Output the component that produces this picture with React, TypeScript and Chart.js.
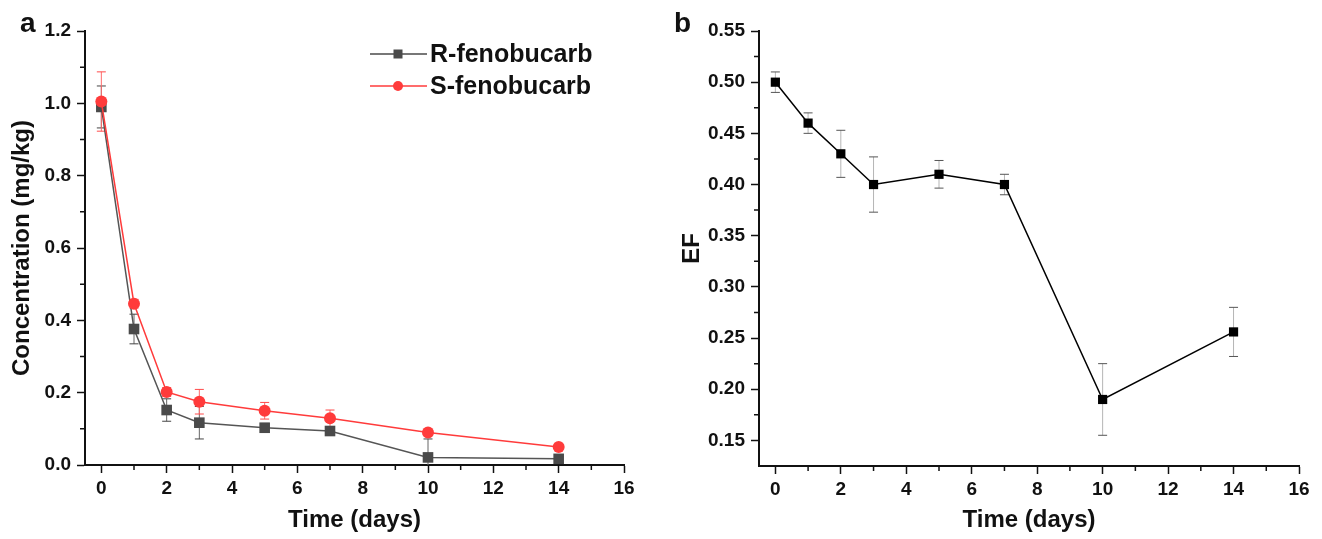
import React, { useEffect, useRef } from 'react';
import { Chart, registerables } from 'chart.js';
Chart.register(...registerables);

// ---------- data ----------
const days = [0, 1, 2, 3, 5, 7, 10, 14];
const rFenobucarb = [0.99, 0.376, 0.152, 0.117, 0.103, 0.094, 0.021, 0.017];
const rFenobucarbErr = [0.058, 0.041, 0.031, 0.045, 0.012, 0.01, 0.051, 0.006];
const sFenobucarb = [1.005, 0.446, 0.202, 0.175, 0.15, 0.129, 0.09, 0.05];
const sFenobucarbErr = [0.082, 0.012, 0.012, 0.034, 0.023, 0.023, 0.006, 0.006];
const efValues = [0.5, 0.46, 0.43, 0.4, 0.41, 0.4, 0.19, 0.256];
const efErr = [0.01, 0.01, 0.023, 0.027, 0.0135, 0.01, 0.035, 0.024];

const timeTicks = [0, 2, 4, 6, 8, 10, 12, 14, 16];
const timeMinorTicks = [1, 3, 5, 7, 9, 11, 13, 15];
const concTicks = [0, 0.2, 0.4, 0.6, 0.8, 1.0, 1.2];
const concMinorTicks = [0.1, 0.3, 0.5, 0.7, 0.9, 1.1];
const efTicks = [0.15, 0.2, 0.25, 0.3, 0.35, 0.4, 0.45, 0.5, 0.55];
const efMinorTicks = [0.175, 0.225, 0.275, 0.325, 0.375, 0.425, 0.475, 0.525];

const FONT = '"Liberation Sans", Arial, Helvetica, sans-serif';
const R_COLOR = '#4a4a4a';
const S_COLOR = '#ff3b3b';

type ErrSpec = { ds: number; err: number[]; line: string; cap: string };
type LegendItem = { label: string; color: string; style: 'rect' | 'circle' };

function errorBarPlugin(specs: ErrSpec[]) {
  return {
    id: 'errorBars',
    beforeDatasetsDraw(chart: any) {
      const { ctx, chartArea: a } = chart;
      const xs = chart.scales.x;
      const ys = chart.scales.y;
      ctx.save();
      ctx.beginPath();
      ctx.rect(a.left, a.top, a.right - a.left, a.bottom - a.top);
      ctx.clip();
      specs.forEach((s) => {
        const data = chart.data.datasets[s.ds].data as { x: number; y: number }[];
        data.forEach((p, i) => {
          const e = s.err[i];
          const px = xs.getPixelForValue(p.x);
          const top = ys.getPixelForValue(p.y + e);
          const bot = ys.getPixelForValue(p.y - e);
          ctx.lineWidth = 1;
          ctx.strokeStyle = s.line;
          ctx.beginPath();
          ctx.moveTo(px, top);
          ctx.lineTo(px, bot);
          ctx.stroke();
          ctx.strokeStyle = s.cap;
          ctx.beginPath();
          ctx.moveTo(px - 4.5, top);
          ctx.lineTo(px + 4.5, top);
          ctx.moveTo(px - 4.5, bot);
          ctx.lineTo(px + 4.5, bot);
          ctx.stroke();
        });
      });
      ctx.restore();
    },
  };
}

function minorTicksPlugin(xMinor: number[], yMinor: number[]) {
  return {
    id: 'minorTicks',
    afterDraw(chart: any) {
      const { ctx, chartArea: a } = chart;
      const xs = chart.scales.x;
      const ys = chart.scales.y;
      ctx.save();
      ctx.strokeStyle = '#111';
      ctx.lineWidth = 1.5;
      ctx.beginPath();
      xMinor.forEach((v) => {
        const px = xs.getPixelForValue(v);
        ctx.moveTo(px, a.bottom);
        ctx.lineTo(px, a.bottom + 5);
      });
      yMinor.forEach((v) => {
        const py = ys.getPixelForValue(v);
        ctx.moveTo(a.left, py);
        ctx.lineTo(a.left - 5, py);
      });
      ctx.stroke();
      ctx.restore();
    },
  };
}

function legendPlugin(items: LegendItem[], x0: number, y0: number, rowGap: number) {
  return {
    id: 'customLegend',
    afterDraw(chart: any) {
      const { ctx } = chart;
      ctx.save();
      items.forEach((it, i) => {
        const y = y0 + i * rowGap;
        ctx.strokeStyle = it.color;
        ctx.lineWidth = 1.5;
        ctx.beginPath();
        ctx.moveTo(x0, y);
        ctx.lineTo(x0 + 57, y);
        ctx.stroke();
        ctx.fillStyle = it.color;
        const cx = x0 + 28;
        if (it.style === 'rect') {
          ctx.fillRect(cx - 4.5, y - 4.5, 9, 9);
        } else {
          ctx.beginPath();
          ctx.arc(cx, y, 5, 0, Math.PI * 2);
          ctx.fill();
        }
        ctx.fillStyle = '#111';
        ctx.font = `bold 25px ${FONT}`;
        ctx.textBaseline = 'middle';
        ctx.textAlign = 'left';
        ctx.fillText(it.label, x0 + 60, y + 1);
      });
      ctx.restore();
    },
  };
}

type PanelProps = {
  width: number;
  height: number;
  left: number;
  datasets: any[];
  errors: ErrSpec[];
  yTitle: string;
  yTitlePad: number;
  yTicks: number[];
  yMinor: number[];
  yMin: number;
  yMax: number;
  yDecimals: number;
  area: { left: number; right: number; top: number; bottom: number };
  yLabelPad: number;
  legend?: LegendItem[];
};

function Panel(props: PanelProps) {
  const ref = useRef<HTMLCanvasElement | null>(null);
  useEffect(() => {
    if (!ref.current) return;
    const p = props;
    const plugins: any[] = [errorBarPlugin(p.errors), minorTicksPlugin(timeMinorTicks, p.yMinor)];
    if (p.legend) plugins.push(legendPlugin(p.legend, 370, 54, 32));
    const tickFont = { family: FONT, size: 19, weight: 'bold' as const };
    const titleFont = { family: FONT, size: 24, weight: 'bold' as const };
    const chart = new Chart(ref.current, {
      type: 'line',
      data: { datasets: p.datasets },
      options: {
        responsive: false,
        animation: false,
        layout: { padding: { top: p.area.top, right: p.width - p.area.right, left: 0, bottom: 0 } },
        plugins: { legend: { display: false }, tooltip: { enabled: false } },
        scales: {
          x: {
            type: 'linear',
            min: -0.5,
            max: 16,
            afterBuildTicks: (s: any) => {
              s.ticks = timeTicks.map((v) => ({ value: v }));
            },
            afterFit: (s: any) => {
              s.height = p.height - p.area.bottom;
            },
            grid: { drawOnChartArea: false, drawTicks: true, tickLength: 8, tickWidth: 1.5, tickColor: '#111' },
            border: { display: true, color: '#111', width: 2 },
            ticks: {
              font: tickFont,
              color: '#111',
              padding: 4,
              maxRotation: 0,
              autoSkip: false,
              callback: (v: any) => String(v),
            },
            title: {
              display: true,
              text: 'Time (days)',
              font: titleFont,
              color: '#111',
              padding: { top: 0, bottom: 4 },
            },
          },
          y: {
            type: 'linear',
            min: p.yMin,
            max: p.yMax,
            afterBuildTicks: (s: any) => {
              s.ticks = p.yTicks.map((v) => ({ value: v }));
            },
            afterFit: (s: any) => {
              s.width = p.area.left;
            },
            grid: { drawOnChartArea: false, drawTicks: true, tickLength: 8, tickWidth: 1.5, tickColor: '#111' },
            border: { display: true, color: '#111', width: 2 },
            ticks: {
              font: tickFont,
              color: '#111',
              padding: p.yLabelPad,
              autoSkip: false,
              callback: (v: any) => Number(v).toFixed(p.yDecimals),
            },
            title: {
              display: true,
              text: p.yTitle,
              font: titleFont,
              color: '#111',
              padding: { top: p.yTitlePad, bottom: 0 },
            },
          },
        },
      } as any,
      plugins,
    });
    return () => chart.destroy();
  }, []);
  return (
    <canvas
      ref={ref}
      width={props.width}
      height={props.height}
      style={{ position: 'absolute', left: props.left, top: 0, width: props.width, height: props.height, display: 'block' }}
    />
  );
}

const toPoints = (ys: number[]) => days.map((d, i) => ({ x: d, y: ys[i] }));

export default function App() {
  const concDatasets = [
    {
      label: 'R-fenobucarb',
      data: toPoints(rFenobucarb),
      borderColor: '#555555',
      backgroundColor: R_COLOR,
      borderWidth: 1.5,
      pointStyle: 'rect',
      pointRadius: 7.5,
      pointBackgroundColor: R_COLOR,
      pointBorderColor: R_COLOR,
      pointBorderWidth: 0,
      tension: 0,
      clip: false,
      order: 1,
    },
    {
      label: 'S-fenobucarb',
      data: toPoints(sFenobucarb),
      borderColor: S_COLOR,
      backgroundColor: S_COLOR,
      borderWidth: 1.5,
      pointStyle: 'circle',
      pointRadius: 6,
      pointBackgroundColor: S_COLOR,
      pointBorderColor: S_COLOR,
      pointBorderWidth: 0,
      tension: 0,
      clip: false,
      order: 0,
    },
  ];
  const efDatasets = [
    {
      label: 'EF',
      data: toPoints(efValues),
      borderColor: '#000',
      backgroundColor: '#000',
      borderWidth: 1.5,
      pointStyle: 'rect',
      pointRadius: 6.5,
      pointBackgroundColor: '#000',
      pointBorderColor: '#000',
      pointBorderWidth: 0,
      tension: 0,
      clip: false,
    },
  ];
  const letterStyle: React.CSSProperties = {
    position: 'absolute',
    fontFamily: FONT,
    fontWeight: 'bold',
    fontSize: 28,
    lineHeight: '28px',
    color: '#111',
  };
  return (
    <div style={{ position: 'absolute', left: 0, top: 0, width: 1322, height: 539, background: '#fff', overflow: 'hidden' }}>
      <Panel
        width={660}
        height={539}
        left={0}
        datasets={concDatasets}
        errors={[
          { ds: 0, err: rFenobucarbErr, line: '#666', cap: '#444' },
          { ds: 1, err: sFenobucarbErr, line: '#ff6b6b', cap: '#ff4a4a' },
        ]}
        yTitle="Concentration (mg/kg)"
        yTitlePad={8}
        yTicks={concTicks}
        yMinor={concMinorTicks}
        yMin={0}
        yMax={1.2}
        yDecimals={1}
        area={{ left: 85, right: 624, top: 31, bottom: 465 }}
        yLabelPad={6}
        legend={[
          { label: 'R-fenobucarb', color: R_COLOR, style: 'rect' },
          { label: 'S-fenobucarb', color: S_COLOR, style: 'circle' },
        ]}
      />
      <Panel
        width={662}
        height={539}
        left={660}
        datasets={efDatasets}
        errors={[{ ds: 0, err: efErr, line: '#b5b5b5', cap: '#555' }]}
        yTitle="EF"
        yTitlePad={18}
        yTicks={efTicks}
        yMinor={efMinorTicks}
        yMin={0.125}
        yMax={0.55}
        yDecimals={2}
        area={{ left: 99, right: 639, top: 31, bottom: 466 }}
        yLabelPad={6}
      />
      <div style={{ ...letterStyle, left: 20, top: 9 }}>a</div>
      <div style={{ ...letterStyle, left: 674, top: 9 }}>b</div>
    </div>
  );
}
